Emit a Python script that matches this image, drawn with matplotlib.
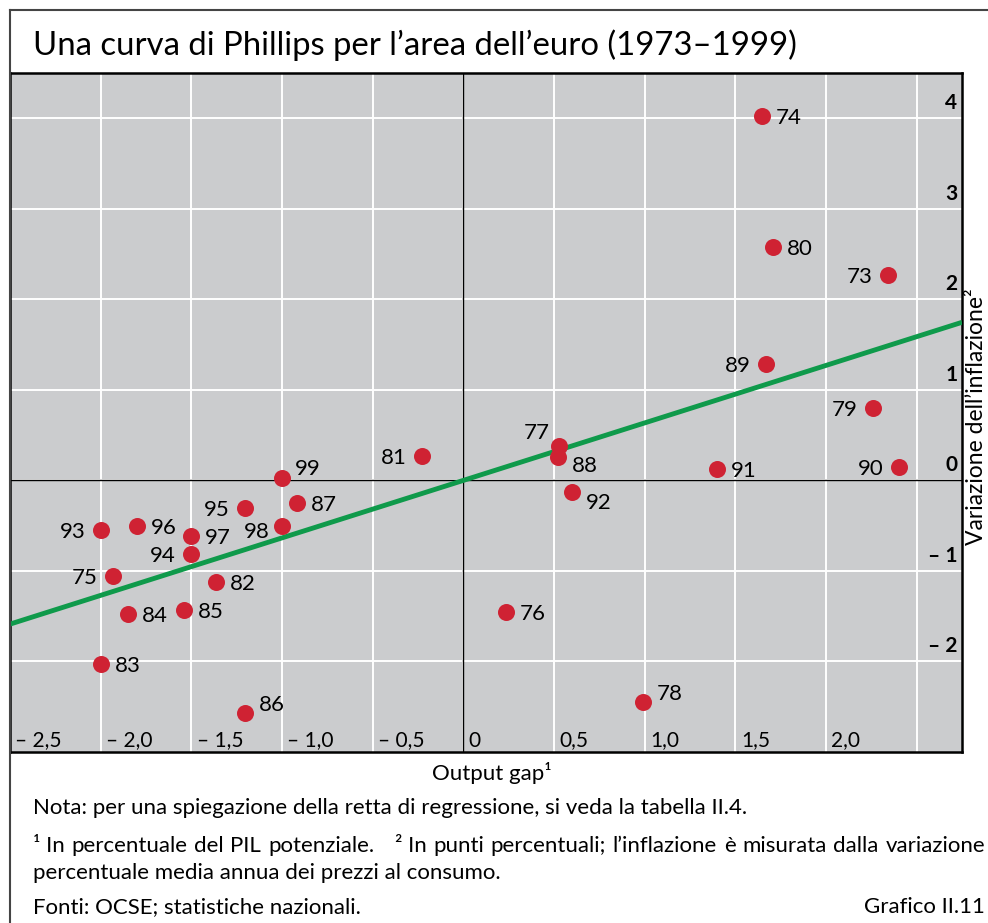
import numpy as np
import matplotlib
matplotlib.use('Agg')
import matplotlib.pyplot as plt
from matplotlib.lines import Line2D

plt.rcParams['font.family'] = ['Lato', 'DejaVu Sans']

# Data: output gap (x) and change in inflation (y) by year
years = ['73', '74', '75', '76', '77', '78', '79', '80', '81', '82', '83', '84', '85', '86',
         '87', '88', '89', '90', '91', '92', '93', '94', '95', '96', '97', '98', '99']
output_gap = [2.34, 1.645, -1.93, 0.235, 0.525, 0.99, 2.26, 1.71, -0.23, -1.365, -2.0, -1.85, -1.54, -1.205,
              -0.92, 0.52, 1.67, 2.40, 1.40, 0.60, -2.0, -1.50, -1.205, -1.80, -1.50, -1.00, -1.00]
infl_change = [2.27, 4.02, -1.06, -1.455, 0.375, -2.45, 0.80, 2.58, 0.265, -1.12, -2.03, -1.48, -1.43, -2.57,
               -0.25, 0.26, 1.29, 0.147, 0.13, -0.13, -0.55, -0.81, -0.30, -0.50, -0.61, -0.50, 0.03]

# regression line (through origin)
reg_slope = 0.635
reg_intercept = 0.0

xtick_vals = [-2.5, -2.0, -1.5, -1.0, -0.5, 0, 0.5, 1.0, 1.5, 2.0]
xtick_labels = ['– 2,5', '– 2,0', '– 1,5', '– 1,0', '– 0,5', '0', '0,5', '1,0', '1,5', '2,0']
ytick_vals = [-2, -1, 0, 1, 2, 3, 4]
ytick_labels = ['– 2', '– 1', '0', '1', '2', '3', '4']

# label placement for each year label (offset in points, ha)
R = ((10, 0), 'left')
L = ((-11, 0), 'right')
label_pos = {y: R for y in years}
for y in ['73', '89', '79', '90', '81', '95', '93', '94', '75']:
    label_pos[y] = L
label_pos['98'] = ((-9, -3), 'right')
label_pos['77'] = ((-6, 11), 'right')
label_pos['88'] = ((10, -5), 'left')
label_pos['92'] = ((10, -6), 'left')
label_pos['99'] = ((9, 8), 'left')
label_pos['86'] = ((10, 7), 'left')
label_pos['78'] = ((10, 7), 'left')

BG = '#cbccce'
RED = '#cf2233'
GREEN = '#0f9a4b'
W, H = 988, 923

fig = plt.figure(figsize=(W / 100, H / 100), dpi=100)
ax = fig.add_axes([10 / W, 1 - 752 / H, 952 / W, 679 / H])
ax.set_facecolor(BG)
ax.set_xlim(-2.5, 2.75)
ax.set_ylim(-3, 4.5)

for xv in np.arange(-2.0, 2.6, 0.5):
    ax.axvline(xv, color='white', lw=1.4, zorder=1)
for yv in range(-2, 5):
    ax.axhline(yv, color='white', lw=1.4, zorder=1)
ax.axhline(0, color='black', lw=1.0, zorder=2)
ax.axvline(0, color='black', lw=1.0, zorder=2)

xs = np.array([-2.5, 2.75])
ax.plot(xs, reg_intercept + reg_slope * xs, color=GREEN, lw=3.5, zorder=3, solid_capstyle='butt')

ax.scatter(output_gap, infl_change, s=150, color=RED, zorder=4, linewidths=0)
for yr, xv, yv in zip(years, output_gap, infl_change):
    off, ha = label_pos[yr]
    ax.annotate(yr, (xv, yv), xytext=off, textcoords='offset points', ha=ha,
                va='center_baseline', fontsize=16, zorder=5)

ax.set_xticks([])
ax.set_yticks([])
for xv, lab in zip(xtick_vals, xtick_labels):
    ax.text(xv + 0.03, -2.94, lab, ha='left', va='baseline', fontsize=15)
for yv, lab in zip(ytick_vals, ytick_labels):
    ax.text(2.725, yv + 0.1, lab, ha='right', va='baseline', fontsize=15, fontweight='bold')

for sp in ax.spines.values():
    sp.set_linewidth(1.8)

# outer frame of the figure
fig.add_artist(Line2D([10 / W, 10 / W], [0, 1 - 10 / H], color='#444444', lw=1.5))
fig.add_artist(Line2D([10 / W, 1], [1 - 10 / H, 1 - 10 / H], color='#444444', lw=1.5))

fig.text(33 / W, 1 - 45 / H, 'Una curva di Phillips per l’area dell’euro (1973–1999)',
         fontsize=23.7, va='center', ha='left')
fig.text(492 / W, 1 - 773 / H, 'Output gap¹', fontsize=16, ha='center', va='center')
fig.text(976 / W, 1 - 417 / H, 'Variazione dell’inflazione²', fontsize=16.5,
         rotation=90, ha='center', va='center')

FS = 16
fig.text(33 / W, 1 - 808 / H,
         'Nota: per una spiegazione della retta di regressione, si veda la tabella II.4.',
         fontsize=FS, va='center')

# second line is justified between the left margin and the right edge
renderer = fig.canvas.get_renderer()
words = ['¹ In', 'percentuale', 'del', 'PIL', 'potenziale.', '² In', 'punti', 'percentuali;',
         'l’inflazione', 'è', 'misurata', 'dalla', 'variazione']
extra_after = {'potenziale.': 14}
tokens = [fig.text(0, 1 - 846 / H, w, fontsize=FS, va='center') for w in words]
widths = [t.get_window_extent(renderer).width for t in tokens]
x0, x1 = 33, 985
gap = (x1 - x0 - sum(widths) - sum(extra_after.values())) / (len(words) - 1)
pos = x0
for t, w, wd in zip(tokens, words, widths):
    t.set_x(pos / W)
    pos += wd + gap + extra_after.get(w, 0)

fig.text(33 / W, 1 - 873 / H, 'percentuale media annua dei prezzi al consumo.',
         fontsize=FS, va='center')
fig.text(33 / W, 1 - 907 / H, 'Fonti: OCSE; statistiche nazionali.', fontsize=FS, va='center')
fig.text(985 / W, 1 - 907 / H, 'Grafico II.11', fontsize=FS, va='center', ha='right')

fig.savefig('out.png', dpi=100)
